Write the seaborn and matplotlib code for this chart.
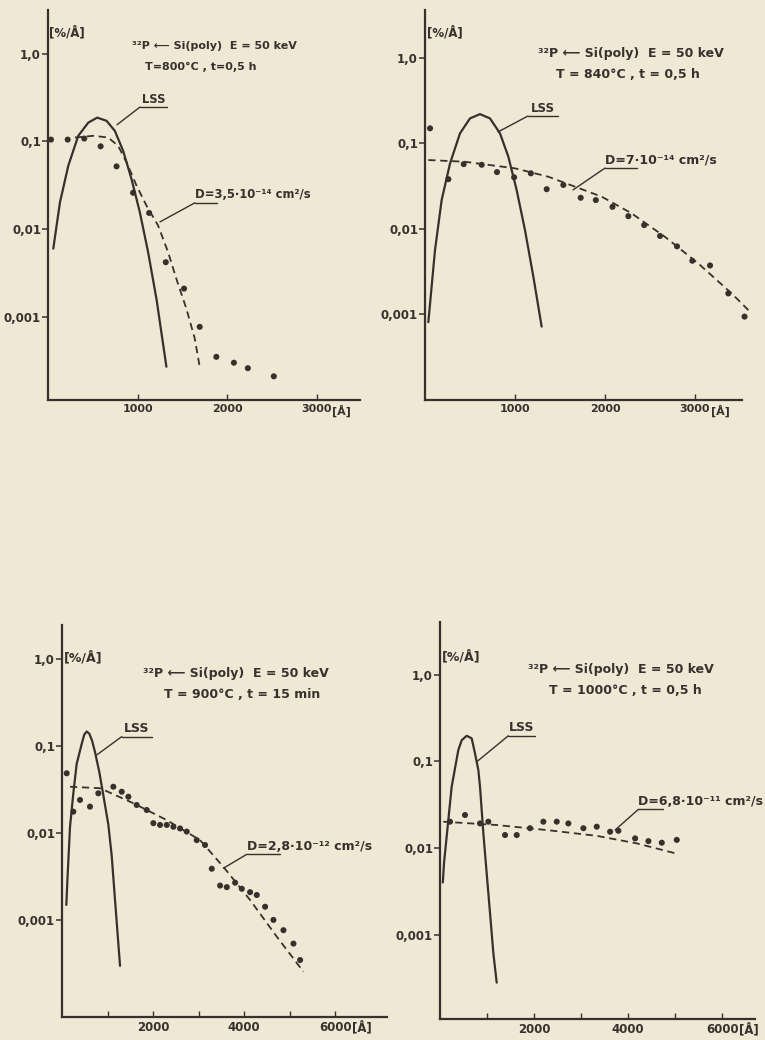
import matplotlib
matplotlib.use('Agg')
import matplotlib.pyplot as plt
from matplotlib.ticker import FixedLocator, NullLocator
import seaborn as sns

# values: depth in Angstrom, concentration in %/A

# 800 C, 0.5 h
p1_lss_x = [59, 134, 227, 338, 450, 550, 654, 747, 840, 933, 1026, 1118, 1212, 1323]
p1_lss_y = [0.0060, 0.0203, 0.053, 0.116, 0.164, 0.187, 0.172, 0.132, 0.078, 0.0373, 0.0156, 0.0055, 0.0016, 0.00027]
p1_fit_x = [301, 505, 672, 784, 877, 989, 1100, 1230, 1341, 1435, 1546, 1639, 1695]
p1_fit_y = [0.111, 0.116, 0.111, 0.089, 0.058, 0.0314, 0.0186, 0.011, 0.0055, 0.0027, 0.00124, 0.00057, 0.00027]
p1_dot_x = [33, 220, 405, 588, 766, 951, 1130, 1316, 1520, 1695, 1881, 2077, 2233, 2523]
p1_dot_y = [0.105, 0.105, 0.108, 0.088, 0.052, 0.026, 0.0153, 0.0042, 0.0021, 0.00077, 0.00035, 0.00030, 0.00026, 0.00021]

# 840 C, 0.5 h
p2_lss_x = [37, 111, 185, 278, 389, 500, 611, 722, 833, 926, 1018, 1111, 1204, 1296]
p2_lss_y = [0.0008, 0.0056, 0.0216, 0.058, 0.131, 0.196, 0.22, 0.196, 0.131, 0.0697, 0.0284, 0.0096, 0.00273, 0.00071]
p2_fit_x = [37, 444, 1000, 1370, 1667, 1963, 2296, 2667, 3037, 3407, 3611]
p2_fit_y = [0.0637, 0.0608, 0.0509, 0.0406, 0.031, 0.0237, 0.0151, 0.0080, 0.0039, 0.00174, 0.00106]
p2_dot_x = [56, 260, 430, 630, 800, 990, 1176, 1352, 1537, 1730, 1898, 2083, 2259, 2435, 2611, 2800, 2970, 3167, 3370, 3550]
p2_dot_y = [0.15, 0.038, 0.057, 0.056, 0.046, 0.040, 0.0445, 0.029, 0.0325, 0.023, 0.0216, 0.018, 0.014, 0.011, 0.0082, 0.0062, 0.0042, 0.0037, 0.00174, 0.00093]

# 900 C, 15 min
p3_lss_x = [95, 120, 176, 249, 322, 432, 490, 543, 600, 660, 725, 820, 920, 1018, 1092, 1165, 1275]
p3_lss_y = [0.0015, 0.003, 0.0118, 0.0286, 0.062, 0.105, 0.135, 0.146, 0.138, 0.115, 0.085, 0.05, 0.025, 0.0125, 0.0055, 0.0017, 0.0003]
p3_fit_x = [176, 835, 1567, 2301, 3033, 3545, 4132, 4718, 5304]
p3_fit_y = [0.034, 0.0327, 0.022, 0.0141, 0.0083, 0.0041, 0.00171, 0.00065, 0.000257]
p3_dot_x = [103, 249, 396, 615, 798, 1128, 1312, 1458, 1641, 1861, 2007, 2154, 2301, 2447, 2594,
            2740, 2960, 3143, 3290, 3473, 3620, 3803, 3950, 4132, 4279, 4462, 4645, 4865, 5085, 5231]
p3_dot_y = [0.0485, 0.0176, 0.024, 0.0201, 0.0286, 0.034, 0.0298, 0.0261, 0.021, 0.0184, 0.0130, 0.0124, 0.0124, 0.0118, 0.0113,
            0.0104, 0.0083, 0.0073, 0.0039, 0.0025, 0.0024, 0.0027, 0.0023, 0.0021, 0.00195, 0.00143, 0.00101, 0.00077, 0.00054, 0.00035]

# 1000 C, 0.5 h
p4_lss_x = [60, 85, 177, 248, 390, 461, 568, 674, 745, 816, 851, 922, 993, 1064, 1135, 1206]
p4_lss_y = [0.004, 0.0067, 0.021, 0.0508, 0.135, 0.175, 0.197, 0.184, 0.123, 0.079, 0.0508, 0.0148, 0.0051, 0.00177, 0.00061, 0.00028]
p4_fit_x = [70, 1206, 2270, 3334, 4185, 5072]
p4_fit_y = [0.0201, 0.0184, 0.0161, 0.0138, 0.0113, 0.0085]
p4_dot_x = [213, 532, 851, 1028, 1383, 1632, 1915, 2198, 2483, 2730, 3050, 3334, 3618, 3794, 4150, 4433, 4717, 5036]
p4_dot_y = [0.0201, 0.024, 0.0192, 0.0201, 0.0141, 0.0141, 0.0169, 0.0201, 0.0201, 0.0192, 0.0169, 0.0176, 0.0154, 0.0158, 0.0129, 0.0120, 0.0115, 0.0124]

y_ticks = [1, 0.1, 0.01, 0.001]
y_labels = ['1,0', '0,1', '0,01', '0,001']
header = '³²P ⟵ Si(poly)  E = 50 keV'

PAPER = '#efe8d5'
INK = '#36312c'
W, H = 765, 1040

sns.set_theme(style='ticks')
plt.rcParams['font.family'] = ['DejaVu Sans']
plt.rcParams['font.weight'] = 'bold'

fig = plt.figure(figsize=(W / 100, H / 100), dpi=100)
fig.patch.set_facecolor(PAPER)


def fig_text(x, y, s, **kw):
    # x, y in pixels from the top-left corner
    fig.text(x / W, 1 - y / H, s, color=INK, fontweight='bold', **kw)


def panel(box, xmax, ylog, xticks, xlabels, lss, fit, dots, lss_mark, d_mark, d_text,
          xfs=8, lfs=8.5, dfs=8.5):
    left, top, right, bottom = box
    ax = fig.add_axes([left / W, 1 - bottom / H, (right - left) / W, (bottom - top) / H])
    ax.set_facecolor('none')

    sns.lineplot(x=lss[0], y=lss[1], ax=ax, color=INK, lw=1.6,
                 estimator=None, sort=False, clip_on=False)
    sns.lineplot(x=fit[0], y=fit[1], ax=ax, color=INK, lw=1.3, linestyle=(0, (4, 2.6)),
                 estimator=None, sort=False, clip_on=False)
    sns.scatterplot(x=dots[0], y=dots[1], ax=ax, color=INK, s=19, edgecolor='none', clip_on=False)

    ax.set_yscale('log')
    ax.set_xlim(0, xmax)
    ax.set_ylim(10 ** ylog[0], 10 ** ylog[1])
    ax.yaxis.set_major_locator(FixedLocator(y_ticks))
    ax.yaxis.set_minor_locator(NullLocator())
    ax.set_yticklabels(y_labels)
    ax.set_xticks(xticks)
    ax.set_xticklabels(xlabels)
    ax.tick_params(axis='y', direction='out', length=4, width=1.1, pad=1,
                   labelsize=8.5, colors=INK)
    ax.tick_params(axis='x', direction='in', length=4, width=1.0, pad=3,
                   labelsize=xfs, colors=INK)
    for side in ['top', 'right']:
        ax.spines[side].set_visible(False)
    for side in ['left', 'bottom']:
        ax.spines[side].set_linewidth(1.6)
        ax.spines[side].set_color(INK)
    ax.set_xlabel('')
    ax.set_ylabel('')

    # unit after the last x label
    ax.annotate('[Å]', xy=(xticks[-1], 0), xycoords=('data', 'axes fraction'),
                xytext=(xfs * 1.43, -3), textcoords='offset points', ha='left', va='top',
                fontsize=xfs, color=INK, fontweight='bold')

    # LSS leader + underlined label
    (cx, cy), (u0, u1, uy) = lss_mark
    ax.plot([cx, u0], [cy, uy], color=INK, lw=1.0, clip_on=False)
    ax.plot([u0, u1], [uy, uy], color=INK, lw=1.0, clip_on=False)
    ax.text((u0 + u1) / 2, uy * 1.04, 'LSS', ha='center', va='bottom',
            fontsize=lfs, color=INK, fontweight='bold')

    # diffusion fit leader + label
    (cx, cy), (u0, u1, uy) = d_mark
    ax.plot([cx, u0], [cy, uy], color=INK, lw=1.0, clip_on=False)
    ax.plot([u0, u1], [uy, uy], color=INK, lw=1.0, clip_on=False)
    ax.text(u0, uy * 1.04, d_text, ha='left', va='bottom',
            fontsize=dfs, color=INK, fontweight='bold')
    return ax


panel((48, 10, 360, 400), 3486, (-3.948, 0.499), [1000, 2000, 3000], ['1000', '2000', '3000'],
      (p1_lss_x, p1_lss_y), (p1_fit_x, p1_fit_y), (p1_dot_x, p1_dot_y),
      ((771, 0.155), (1028, 1329, 0.247)), ((1251, 0.0121), (1642, 1888, 0.02)),
      'D=3,5·10⁻¹⁴ cm²/s', xfs=8, lfs=8.3, dfs=8.4)
panel((425, 10, 742, 400), 3522, (-4.009, 0.563), [1000, 2000, 3000], ['1000', '2000', '3000'],
      (p2_lss_x, p2_lss_y), (p2_fit_x, p2_fit_y), (p2_dot_x, p2_dot_y),
      ((811, 0.136), (1144, 1478, 0.209)), ((1644, 0.0284), (2000, 2355, 0.0513)),
      'D=7·10⁻¹⁴ cm²/s', xfs=8, lfs=8.5, dfs=9)
panel((62, 625, 387, 1017), 7140, (-4.109, 0.386), [1000, 2000, 3000, 4000, 5000, 6000],
      ['', '2000', '', '4000', '', '6000'],
      (p3_lss_x, p3_lss_y), (p3_fit_x, p3_fit_y), (p3_dot_x, p3_dot_y),
      ((763, 0.0787), (1312, 1971, 0.1276)), ((3545, 0.00395), (4060, 4792, 0.00571)),
      'D=2,8·10⁻¹² cm²/s', xfs=8.5, lfs=9, dfs=9)
panel((440, 622, 755, 1019), 6700, (-3.973, 0.607), [1000, 2000, 3000, 4000, 5000, 6000],
      ['', '2000', '', '4000', '', '6000'],
      (p4_lss_x, p4_lss_y), (p4_fit_x, p4_fit_y), (p4_dot_x, p4_dot_y),
      ((781, 0.0987), (1453, 2022, 0.197)), ((3724, 0.0161), (4220, 4752, 0.0279)),
      'D=6,8·10⁻¹¹ cm²/s', xfs=8.5, lfs=9, dfs=9)

# headers and unit labels
fig_text(214, 46, header, ha='center', va='center', fontsize=8)
fig_text(201, 67, 'T=800°C , t=0,5 h', ha='center', va='center', fontsize=8)
fig_text(631, 53, header, ha='center', va='center', fontsize=9)
fig_text(628, 74, 'T = 840°C , t = 0,5 h', ha='center', va='center', fontsize=9)
fig_text(236, 673, header, ha='center', va='center', fontsize=9)
fig_text(242, 695, 'T = 900°C , t = 15 min', ha='center', va='center', fontsize=9)
fig_text(621, 670, header, ha='center', va='center', fontsize=9)
fig_text(625, 690, 'T = 1000°C , t = 0,5 h', ha='center', va='center', fontsize=9)

for ux, uy, fs in [(49, 33, 8.5), (427, 33, 8.5), (64, 658, 9), (442, 657, 9)]:
    fig_text(ux, uy, '[%/Å]', ha='left', va='center', fontsize=fs)

fig.savefig('out.png', dpi=100, facecolor=PAPER)
